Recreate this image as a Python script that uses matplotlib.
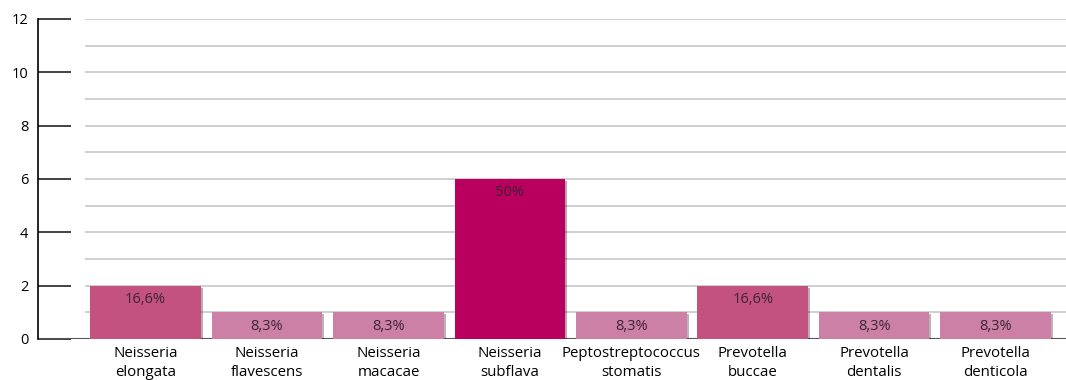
import matplotlib.pyplot as plt
import matplotlib.patheffects as pe
import numpy as np

# -----------------------
# Data
# -----------------------

categories = [
    "Neisseria\nelongata",
    "Neisseria\nflavescens",
    "Neisseria\nmacacae",
    "Neisseria\nsubflava",
    "Peptostreptococcus\nstomatis",
    "Prevotella\nbuccae",
    "Prevotella\ndentalis",
    "Prevotella\ndenticola",
]
counts = [2, 1, 1, 6, 1, 2, 1, 1]
pct_labels = ["16,6%", "8,3%", "8,3%", "50%", "8,3%", "16,6%", "8,3%", "8,3%"]

color_by_count = {1: "#cd80a6", 2: "#c45281", 6: "#b9005f"}

# -----------------------
# Plot
# -----------------------

plt.rcParams["font.family"] = ["Open Sans", "DejaVu Sans"]

fig = plt.figure(figsize=(10.66, 3.8), dpi=100)
ax = fig.add_axes([38 / 1066, 41 / 380, 1 - 38 / 1066, 320 / 380])

x = np.arange(len(categories))
ax.set_xlim(-0.886, 7.58)
ax.set_ylim(0, 12)

# horizontal gridlines (every unit), starting a bit right of the axis
for yv in range(1, 13):
    ax.hlines(yv, -0.5, 7.58, color="#cccccc", lw=1.3, zorder=1)

bars = ax.bar(
    x, counts, width=0.91,
    color=[color_by_count[c] for c in counts],
    zorder=3,
)
for b in bars:
    b.set_path_effects([pe.SimplePatchShadow(offset=(1.5, -1.5), alpha=0.35), pe.Normal()])

for xi, c, lab in zip(x, counts, pct_labels):
    ax.annotate(lab, (xi, c), xytext=(0, -10), textcoords="offset points",
                ha="center", va="center", fontsize=10.5, color="#3a2533", zorder=4)

# baseline
ax.axhline(0, color="#555555", lw=1.5, zorder=2)

for side in ["top", "right", "bottom"]:
    ax.spines[side].set_visible(False)
ax.spines["left"].set_color("black")
ax.spines["left"].set_linewidth(1.2)

ax.set_yticks(range(0, 13, 2))
ax.tick_params(axis="y", direction="in", length=24, width=1.2, color="#222222",
               labelsize=10.5, pad=7)
ax.set_xticks(x)
ax.set_xticklabels(categories, fontsize=10.8, linespacing=1.4)
ax.tick_params(axis="x", length=0, pad=5)

fig.savefig("out.png", dpi=100)
